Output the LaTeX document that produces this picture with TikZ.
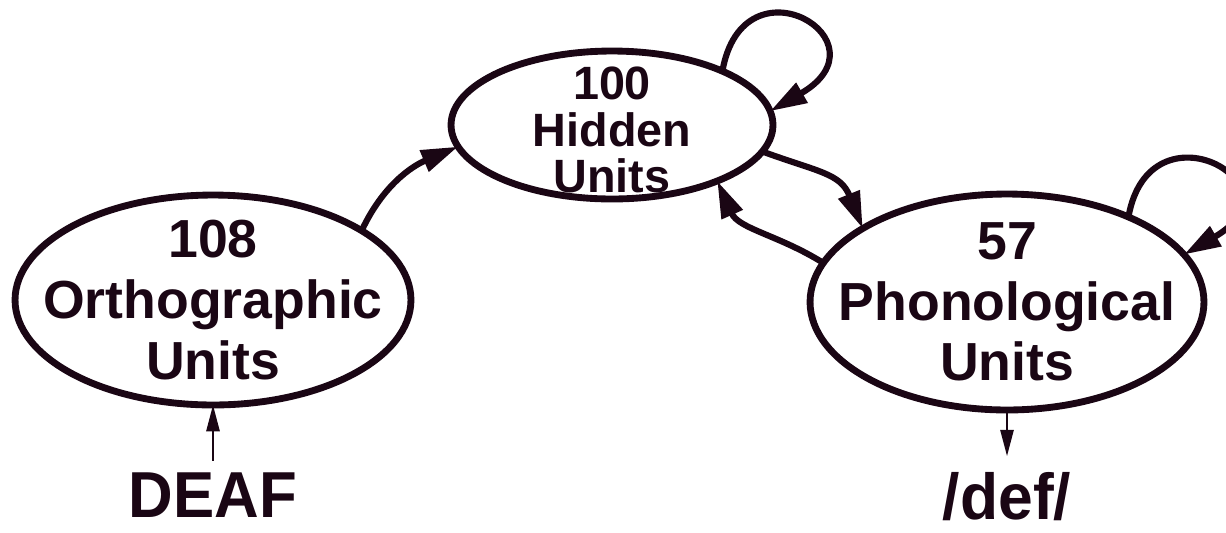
\documentclass[tikz,border=0pt]{standalone}
\usepackage{fontspec}
\setmainfont{Liberation Sans}
\usetikzlibrary{positioning, shapes.geometric, arrows.meta}
\definecolor{ink}{RGB}{26,6,20}
\tikzset{layer/.style={ellipse, draw=ink, line width=3.9pt, inner sep=0pt, outer sep=0pt},
         layertext/.style={align=center, text=ink, font=\bfseries\fontsize{30.5}{34.5}\selectfont},
         word/.style={inner sep=0pt, outer sep=0pt, text=ink, font=\bfseries\fontsize{37}{40}\selectfont},
         link/.style={draw=ink, line width=3.5pt, -{Triangle[length=21pt, width=12.5pt]}},
         thinlink/.style={draw=ink, line width=1.3pt, -{Triangle[length=15pt, width=7.5pt]}}}

\begin{document}
\begin{tikzpicture}[x=0.02cm, y=-0.02cm]
        \useasboundingbox (0,0) rectangle (1226,532);
        % the three layers
        \node (ortho)[layer, minimum width=7.92cm, minimum height=4.2cm] at (213,300) {};
        \node (orthotext)[layertext] at (ortho) {108\\Orthographic\\Units};
        \node (hidden)[layer, minimum width=6.44cm, minimum height=2.96cm] at (612,125) {};
        \node (hiddentext)[layertext, font=\bfseries\fontsize{26.6}{26.5}\selectfont, yshift=-0.1cm] at (hidden) {100\\Hidden\\Units};
        \node (phono)[layer, minimum width=7.88cm, minimum height=4.32cm] at (1007,302) {};
        \node (phonotext)[layertext] at (phono) {57\\Phonological\\Units};
        % input and output
        \node (deaf)[word, below=1.36cm of ortho]{\scalebox{0.95}[1]{DEAF}};
        \node (def)[word, below=1.24cm of phono]{\scalebox{0.96}[1]{/def/}};
        \draw [thinlink, shorten <=7pt] (deaf) -- (ortho);
        \draw [thinlink, shorten >=9pt] (phono) -- (def);
        % connections between layers
        \draw [link] (ortho.25) to[out=65, in=203] (hidden.188);
        \draw [link] (hidden.-10) to[out=-20, in=112, looseness=1.2] (phono.153);
        \draw [link] (phono.168) to[out=148, in=-66] (hidden.-28);
        \draw [link] (hidden.26) .. controls +(80:2.4cm) and +(30:2.8cm) .. (hidden.5);
        \draw [link] (phono.35) .. controls +(80:2.4cm) and +(30:2.8cm) .. (phono.15);
    \end{tikzpicture}
\end{document}
